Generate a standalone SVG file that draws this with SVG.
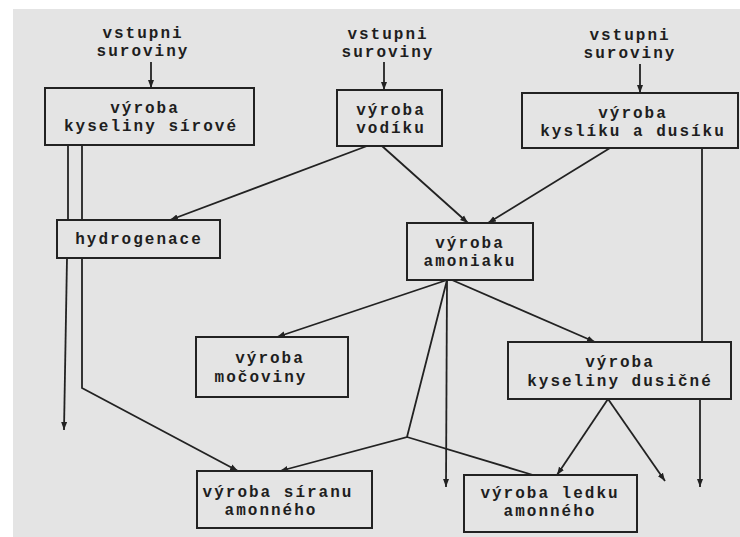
<svg xmlns="http://www.w3.org/2000/svg" width="740" height="537" viewBox="0 0 740 537">
  <defs>
    <marker id="arrow" markerUnits="userSpaceOnUse" markerWidth="9" markerHeight="7" refX="8" refY="3.5" orient="auto">
      <path d="M0,0.5 L8,3.5 L0,6.5 z" fill="#222"/>
    </marker>
    <style>
      .box { fill: #e4e4e4; stroke: #222; stroke-width: 2; }
      .lbl { font-family: "Liberation Mono", "DejaVu Sans Mono", monospace; font-size: 16px; font-weight: bold; letter-spacing: 2px; fill: #1e1e1e; text-anchor: middle; }
      .con { fill: none; stroke: #222; stroke-width: 1.8; }
      .arr { marker-end: url(#arrow); }
    </style>
  </defs>

  <!-- page -->
  <rect x="0" y="0" width="740" height="537" fill="#ffffff"/>
  <rect x="13" y="9" width="727" height="528" fill="#e4e4e4"/>

  <!-- connectors -->
  <g id="connectors">
    <line class="con arr" x1="151" y1="62" x2="151" y2="88"/>
    <line class="con arr" x1="384" y1="62" x2="384" y2="90"/>
    <line class="con arr" x1="640" y1="64" x2="640" y2="93"/>
    <line class="con" x1="68" y1="145" x2="68" y2="220"/>
    <line class="con" x1="82" y1="145" x2="82" y2="220"/>
    <line class="con arr" x1="367" y1="146" x2="170" y2="220"/>
    <line class="con arr" x1="382" y1="146" x2="468" y2="223"/>
    <line class="con arr" x1="610" y1="148" x2="488" y2="223"/>
    <line class="con" x1="702" y1="148" x2="702" y2="342"/>
    <line class="con arr" x1="67" y1="258" x2="64" y2="430"/>
    <polyline class="con arr" points="82,258 82,388 238,471"/>
    <line class="con arr" x1="447" y1="280" x2="277" y2="337"/>
    <line class="con arr" x1="447" y1="280" x2="446" y2="487"/>
    <line class="con arr" x1="452" y1="280" x2="595" y2="342"/>
    <polyline class="con arr" points="447,280 407,437 280,471"/>
    <line class="con" x1="407" y1="437" x2="533" y2="475"/>
    <line class="con arr" x1="608" y1="399" x2="557" y2="475"/>
    <line class="con arr" x1="608" y1="399" x2="665" y2="481"/>
    <line class="con arr" x1="700" y1="399" x2="700" y2="487"/>
  </g>

  <!-- raw material inputs -->
  <g id="input-1">
    <text class="lbl" x="143" y="38">vstupni</text>
    <text class="lbl" x="143" y="56">suroviny</text>
  </g>
  <g id="input-2">
    <text class="lbl" x="388" y="39">vstupni</text>
    <text class="lbl" x="388" y="57">suroviny</text>
  </g>
  <g id="input-3">
    <text class="lbl" x="630" y="40">vstupni</text>
    <text class="lbl" x="630" y="58">suroviny</text>
  </g>

  <!-- process nodes -->
  <g id="sulfuric-acid">
    <rect class="box" x="45" y="88" width="209" height="57"/>
    <text class="lbl" x="145" y="113">výroba</text>
    <text class="lbl" x="151" y="131">kyseliny sírové</text>
  </g>
  <g id="hydrogen">
    <rect class="box" x="337" y="90" width="105" height="56"/>
    <text class="lbl" x="391" y="115">výroba</text>
    <text class="lbl" x="391" y="133">vodíku</text>
  </g>
  <g id="oxygen-nitrogen">
    <rect class="box" x="522" y="93" width="216" height="55"/>
    <text class="lbl" x="633" y="118">výroba</text>
    <text class="lbl" x="633" y="136">kyslíku a dusíku</text>
  </g>
  <g id="hydrogenation">
    <rect class="box" x="57" y="220" width="163" height="38"/>
    <text class="lbl" x="139" y="244">hydrogenace</text>
  </g>
  <g id="ammonia">
    <rect class="box" x="407" y="223" width="126" height="57"/>
    <text class="lbl" x="470" y="248">výroba</text>
    <text class="lbl" x="470" y="266">amoniaku</text>
  </g>
  <g id="urea">
    <rect class="box" x="196" y="337" width="152" height="60"/>
    <text class="lbl" x="270" y="363">výroba</text>
    <text class="lbl" x="261" y="382">močoviny</text>
  </g>
  <g id="nitric-acid">
    <rect class="box" x="508" y="342" width="223" height="57"/>
    <text class="lbl" x="620" y="367">výroba</text>
    <text class="lbl" x="620" y="386">kyseliny dusičné</text>
  </g>
  <g id="ammonium-sulfate">
    <rect class="box" x="197" y="471" width="175" height="57"/>
    <text class="lbl" x="278" y="497">výroba síranu</text>
    <text class="lbl" x="271" y="515">amonného</text>
  </g>
  <g id="ammonium-nitrate">
    <rect class="box" x="464" y="475" width="173" height="57"/>
    <text class="lbl" x="550" y="498">výroba ledku</text>
    <text class="lbl" x="550" y="516">amonného</text>
  </g>
</svg>
